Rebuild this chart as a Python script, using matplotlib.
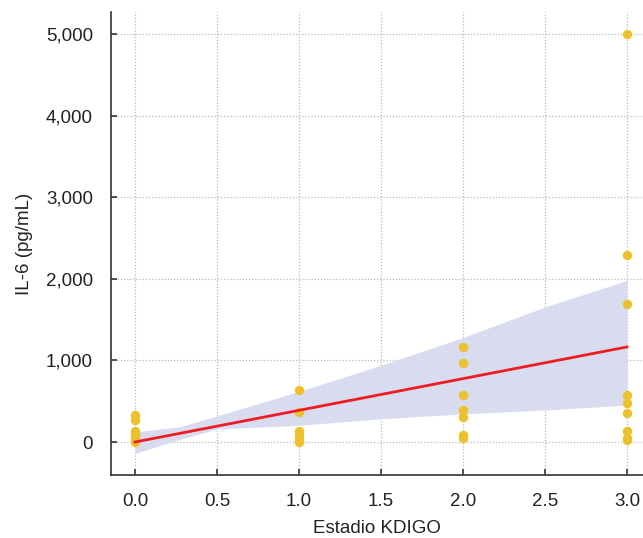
import numpy as np
import matplotlib
matplotlib.use('Agg')
import matplotlib.pyplot as plt

plt.rcParams['font.family'] = ['Liberation Sans', 'DejaVu Sans']

# puntos IL-6 por estadio KDIGO
stage0 = [330, 275, 130, 95, 60, 25, 5]
stage1 = [640, 365, 130, 75, 25, 5]
stage2 = [1170, 970, 575, 390, 310, 85, 45]
stage3 = [5000, 2295, 1690, 575, 480, 360, 135, 55, 30]
stages = [0, 1, 2, 3]

# recta de regresion y banda de confianza
reg_x = [0, 3]
reg_y = [0, 1165]
ci_x = [0, 0.27, 0.5, 1, 1.5, 2, 2.5, 3]
ci_hi = [126, 185, 320, 620, 940, 1280, 1655, 1980]
ci_lo = [-140, 30, 160, 205, 285, 345, 392, 453]

xticks = [0, 0.5, 1, 1.5, 2, 2.5, 3]
yticks = [0, 1000, 2000, 3000, 4000, 5000]

fig = plt.figure(figsize=(6.43, 5.38), dpi=100)
ax = fig.add_axes([0.1726, 0.1171, 0.8274, 0.8606])

ax.fill_between(ci_x, ci_lo, ci_hi, color='#d9dcee', lw=0, zorder=1)
for s, vals in zip(stages, [stage0, stage1, stage2, stage3]):
    ax.scatter([s]*len(vals), vals, s=46, color='#ebc12d', lw=0, zorder=2)
ax.plot(reg_x, reg_y, color='#ee1c25', lw=2.0, zorder=3)

ax.set_xlim(-0.146, 3.098)
ax.set_ylim(-404, 5270)
ax.set_xticks(xticks)
ax.set_xticklabels(['%.1f' % t for t in xticks])
ax.set_yticks(yticks)
ax.set_yticklabels(['{:,}'.format(t) for t in yticks])

ax.grid(True, ls=(0, (1, 1.5)), color='#b8b8b8', lw=0.9)
ax.set_axisbelow(True)
for sp in ['top', 'right']:
    ax.spines[sp].set_visible(False)
for sp in ['left', 'bottom']:
    ax.spines[sp].set_color('#333333')
    ax.spines[sp].set_linewidth(1.2)
ax.tick_params(direction='in', length=4, width=1.2, color='#333333',
               labelsize=13.5, labelcolor='#222222', pad=13)

ax.set_xlabel('Estadio KDIGO', fontsize=13.5, color='#222222', labelpad=7)
ax.set_ylabel('IL-6 (pg/mL)', fontsize=13.5, color='#222222', labelpad=9)

plt.savefig('out.png', dpi=100)
